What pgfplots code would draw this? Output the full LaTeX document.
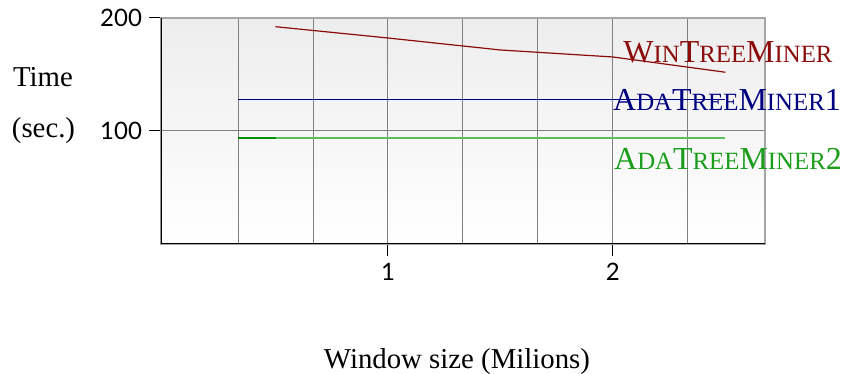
\documentclass[border=0pt]{standalone}
\usepackage{fontspec}
\setmainfont{Liberation Serif}
\newfontfamily\tickfont{Lato}
\usepackage{pgfplots}
\pgfplotsset{compat=1.18}
\definecolor{wtm}{HTML}{8B0A0A}
\definecolor{atm1}{HTML}{000080}
\definecolor{atm2}{HTML}{1A9E1A}
\definecolor{dgreen}{HTML}{009000}
\definecolor{lgreen}{HTML}{5CBF5C}
\newcommand{\sm}[1]{{\fontsize{12.4}{14}\selectfont #1}}
\begin{document}
\begin{tikzpicture}
\useasboundingbox (-80.5pt,-65pt) rectangle (343pt,122pt);
\begin{axis}[
  scale only axis, width=302pt, height=113pt,
  at={(0,0)}, anchor=south west,
  xmin=-0.009, xmax=2.676, ymin=0, ymax=200,
  xtick={1,2}, minor xtick={0.3333,0.6667,1.3333,1.6667,2.3333},
  ytick={100,200},
  xtick pos=bottom, ytick pos=left,
  grid=both,
  major grid style={black!50, line width=0.5pt},
  minor grid style={black!50, line width=0.5pt},
  axis line style={black!35, line width=1pt},
  tick align=outside, major tick length=6pt, minor tick length=0pt,
  tick style={black, line width=0.5pt},
  ticklabel style={font=\fontsize{12}{14}\tickfont},
  /pgf/number format/assume math mode=true,
  axis background/.style={top color=black!7, bottom color=white},
]
\addplot[wtm, line width=0.6pt] coordinates {(0.5,192.3) (1.0,182.3) (1.5,171.7) (2.0,165.5) (2.5,152)};
\addplot[atm1, line width=0.7pt] coordinates {(0.333,127.8) (2.5,127.8)};
\addplot[lgreen, line width=1pt] coordinates {(0.333,94) (2.5,94)};
\addplot[dgreen, line width=1pt] coordinates {(0.333,94) (0.5,94)};
\draw[black, line width=0.7pt] (rel axis cs:0,1) -- (rel axis cs:0,0) -- (rel axis cs:1,0);
\end{axis}
\node[font=\fontsize{14.4}{17}\selectfont] at (-59pt,83.5pt) {Time};
\node[font=\fontsize{14.4}{17}\selectfont] at (-58.75pt,56.75pt) {(sec.)};
\node[font=\fontsize{14.4}{17}\selectfont] at (148pt,-59pt) {Window size (Milions)};
\node[font=\fontsize{16}{18}\selectfont, text=wtm] at (283.5pt,96pt) {W\sm{IN}T\sm{REE}M\sm{INER}};
\node[font=\fontsize{16}{18}\selectfont, text=atm1] at (283pt,72pt) {A\sm{DA}T\sm{REE}M\sm{INER}1};
\node[font=\fontsize{16}{18}\selectfont, text=atm2] at (283.5pt,42.5pt) {A\sm{DA}T\sm{REE}M\sm{INER}2};
\end{tikzpicture}
\end{document}
